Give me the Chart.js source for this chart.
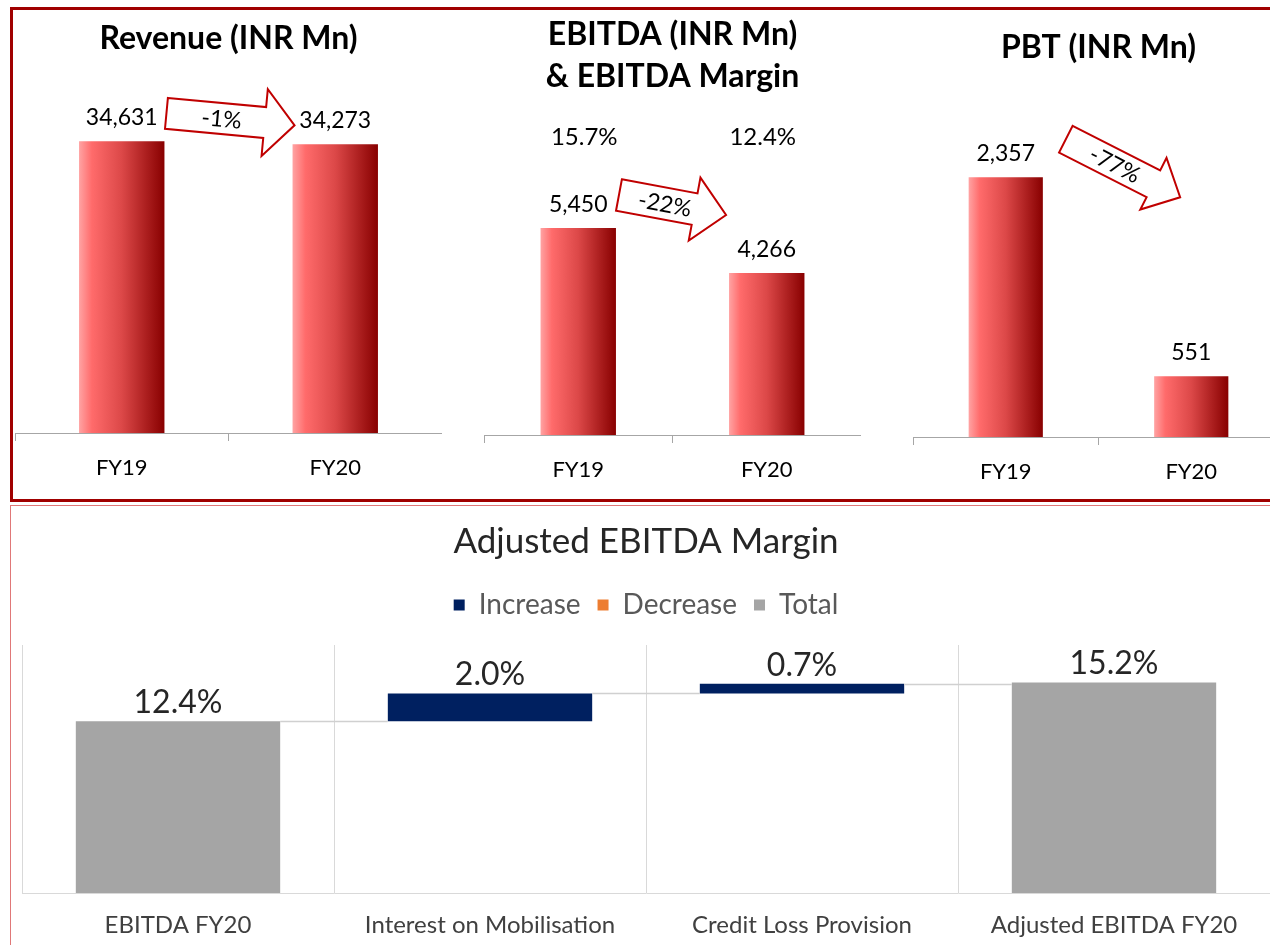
<!DOCTYPE html>
<html>
<head>
<meta charset="utf-8">
<script src="https://cdn.jsdelivr.net/npm/chart.js@4.4.1/dist/chart.umd.min.js"></script>
<style>
body { margin: 0; width: 1270px; height: 945px; overflow: hidden; background: #fff; }
.panel { position: absolute; box-sizing: border-box; }
#topPanel { left: 10px; top: 7px; width: 1290px; height: 495px; border: 3px solid #a00000; }
#bottomPanel { left: 10px; top: 505px; width: 1290px; height: 460px; border: 1px solid #e07878; }
canvas { position: absolute; }
</style>
</head>
<body>
<div class="panel" id="topPanel"></div>
<div class="panel" id="bottomPanel"></div>
<canvas id="rev" width="428" height="490" style="left:14px;top:10px"></canvas>
<canvas id="ebitda" width="378" height="490" style="left:483px;top:10px"></canvas>
<canvas id="pbt" width="372" height="490" style="left:912px;top:10px"></canvas>
<canvas id="bridge" width="1256" height="452" style="left:20px;top:508px"></canvas>
<script>
// valeurs
const years = ['FY19', 'FY20'];
const revenue = [34631, 34273];
const ebitda = [5450, 4266];
const ebitdaMargin = [15.7, 12.4];
const pbt = [2357, 551];
const changes = ['-1%', '-22%', '-77%'];

const bridgeLabels = ['EBITDA FY20', 'Interest on Mobilisation', 'Credit Loss Provision', 'Adjusted EBITDA FY20'];
const bridgeValues = [12.4, 2.0, 0.7, 15.2];
const bridgeTypes = ['total', 'increase', 'increase', 'total'];

Chart.defaults.font.family = 'Lato, sans-serif';
Chart.defaults.animation = false;

// degrade rouge horizontal sur chaque barre
function barGradient(context) {
    const chart = context.chart;
    if (!chart.chartArea || context.dataIndex === undefined) return '#e05050';
    const sx = chart.scales.x;
    const x = sx.getPixelForValue(context.dataIndex);
    const half = sx.width / chart.data.labels.length * 0.4 / 2;
    const g = chart.ctx.createLinearGradient(x - half, 0, x + half, 0);
    g.addColorStop(0, '#ffa3a3');
    g.addColorStop(0.15, '#ff6b6b');
    g.addColorStop(0.5, '#dc4848');
    g.addColorStop(1, '#880000');
    return g;
}

const valueLabels = {
    id: 'valueLabels',
    afterDatasetsDraw(chart) {
        const c = chart.ctx;
        const meta = chart.getDatasetMeta(0);
        c.save();
        c.font = '23px Lato';
        c.fillStyle = '#000';
        c.textAlign = 'center';
        c.textBaseline = 'alphabetic';
        meta.data.forEach((bar, i) => {
            c.fillText(chart.data.datasets[0].data[i].toLocaleString('en-US'), bar.x, bar.y - 16);
        });
        c.restore();
    }
};

// fleche de variation entre les deux barres
const changeArrow = {
    id: 'changeArrow',
    afterDatasetsDraw(chart, args, o) {
        if (!o || !o.text) return;
        const meta = chart.getDatasetMeta(0);
        const b0 = meta.data[0], b1 = meta.data[1];
        const x1 = b0.x + b0.width / 2 + o.from[0], y1 = b0.y + o.from[1];
        const x2 = b1.x - b1.width / 2 + o.to[0], y2 = b1.y + o.to[1];
        const len = Math.hypot(x2 - x1, y2 - y1);
        const ang = Math.atan2(y2 - y1, x2 - x1);
        const s = o.shaft / 2, H = o.head / 2, h = o.headLen;
        const c = chart.ctx;
        c.save();
        c.translate(x1, y1);
        c.rotate(ang);
        c.beginPath();
        c.moveTo(0, -s);
        c.lineTo(len - h, -s);
        c.lineTo(len - h, -H);
        c.lineTo(len, 0);
        c.lineTo(len - h, H);
        c.lineTo(len - h, s);
        c.lineTo(0, s);
        c.closePath();
        c.fillStyle = '#fff';
        c.fill();
        c.strokeStyle = '#c00000';
        c.lineWidth = 2;
        c.stroke();
        c.font = '23px Lato';
        c.fillStyle = '#000';
        c.textAlign = 'center';
        c.textBaseline = 'middle';
        c.fillText(o.text, len * 0.43, 1);
        c.restore();
    }
};

const marginLabels = {
    id: 'marginLabels',
    afterDatasetsDraw(chart, args, o) {
        if (!o || !o.values) return;
        const meta = chart.getDatasetMeta(0);
        const c = chart.ctx;
        c.save();
        c.font = '24px Lato';
        c.fillStyle = '#000';
        c.textAlign = 'center';
        c.textBaseline = 'middle';
        meta.data.forEach((bar, i) => {
            c.fillText(o.values[i].toFixed(1) + '%', bar.x + (i === 0 ? 6 : -4), chart.chartArea.top + 32);
        });
        c.restore();
    }
};

function topChart(id, title, values, yMax, titlePad, bottomPad, arrow, margins) {
    return new Chart(document.getElementById(id), {
        type: 'bar',
        data: {
            labels: years,
            datasets: [{
                data: values,
                backgroundColor: barGradient,
                borderWidth: 0,
                barPercentage: 0.4,
                categoryPercentage: 1
            }]
        },
        options: {
            responsive: false,
            layout: { padding: { left: 1, right: 0, top: 0, bottom: bottomPad } },
            scales: {
                x: {
                    grid: { drawOnChartArea: false, drawTicks: true, tickLength: 8, color: '#a6a6a6' },
                    border: { color: '#a6a6a6' },
                    ticks: { color: '#000', font: { size: 22 }, padding: 14 }
                },
                y: { display: false, min: 0, max: yMax }
            },
            plugins: {
                legend: { display: false },
                tooltip: { enabled: false },
                title: {
                    display: true,
                    text: title,
                    color: '#000',
                    font: { size: 32, weight: 'bold', lineHeight: Array.isArray(title) ? 1.3125 : 1.2 },
                    padding: titlePad
                },
                changeArrow: arrow,
                marginLabels: margins
            }
        },
        plugins: [valueLabels, changeArrow, marginLabels]
    });
}

topChart('rev', 'Revenue (INR Mn)', revenue, 44360, { top: 9, bottom: 2 }, 4.6,
    { text: changes[0], from: [2, -28], to: [2, -19], shaft: 31, head: 67, headLen: 30 }, {});
topChart('ebitda', ['EBITDA (INR Mn)', '& EBITDA Margin'], ebitda, 8690, { top: 4, bottom: 7 }, 2.6,
    { text: changes[1], from: [3, -33], to: [-3, -58], shaft: 32, head: 64, headLen: 32 }, { values: ebitdaMargin });
topChart('pbt', 'PBT (INR Mn)', pbt, 3327, { top: 18, bottom: 4 }, 0.6,
    { text: changes[2], from: [23, -38], to: [26, -179], shaft: 30, head: 58, headLen: 30 }, {});

// pont de marge : barres flottantes
const incData = [], decData = [], totData = [], tops = [];
let running = 0;
bridgeValues.forEach((v, i) => {
    const t = bridgeTypes[i];
    let seg;
    if (t === 'total') { seg = [0, v]; running = v; }
    else if (t === 'increase') { seg = [running, running + v]; running += v; }
    else { seg = [running - v, running]; running -= v; }
    tops.push(running);
    incData.push(t === 'increase' ? seg : null);
    decData.push(t === 'decrease' ? seg : null);
    totData.push(t === 'total' ? seg : null);
});

const bridgeExtras = {
    id: 'bridgeExtras',
    beforeInit(chart) {
        const fit = chart.legend.fit;
        chart.legend.fit = function () { fit.bind(chart.legend)(); this.height += 16; };
    },
    afterDatasetsDraw(chart) {
        const c = chart.ctx;
        const ys = chart.scales.y;
        const bars = bridgeLabels.map((l, i) => {
            for (let d = 0; d < chart.data.datasets.length; d++) {
                if (chart.data.datasets[d].data[i]) return chart.getDatasetMeta(d).data[i];
            }
        });
        c.save();
        c.strokeStyle = '#d0d0d0';
        c.lineWidth = 1.5;
        for (let i = 0; i < bars.length - 1; i++) {
            const y = Math.round(ys.getPixelForValue(tops[i])) + 0.5;
            c.beginPath();
            c.moveTo(bars[i].x + bars[i].width / 2, y);
            c.lineTo(bars[i + 1].x - bars[i + 1].width / 2, y);
            c.stroke();
        }
        c.font = '32px Lato';
        c.fillStyle = '#262626';
        c.textAlign = 'center';
        c.textBaseline = 'alphabetic';
        bars.forEach((b, i) => {
            const top = Math.min(b.y, b.base);
            c.fillText(bridgeValues[i].toFixed(1) + '%', b.x, top - 8);
        });
        c.restore();
    }
};

new Chart(document.getElementById('bridge'), {
    type: 'bar',
    data: {
        labels: bridgeLabels,
        datasets: [
            { label: 'Increase', data: incData, backgroundColor: '#002060' },
            { label: 'Decrease', data: decData, backgroundColor: '#ed7d31' },
            { label: 'Total', data: totData, backgroundColor: '#a5a5a5' }
        ].map(d => Object.assign(d, { borderWidth: 0, grouped: false, barPercentage: 0.655, categoryPercentage: 1 }))
    },
    options: {
        responsive: false,
        layout: { padding: { left: 2, right: 6, top: 0, bottom: 2.2 } },
        scales: {
            x: {
                grid: { color: '#d9d9d9', drawTicks: false },
                border: { color: '#d9d9d9' },
                ticks: { color: '#404040', font: { size: 24 }, padding: 18 }
            },
            y: { display: false, min: 0, max: 17.9 }
        },
        plugins: {
            title: {
                display: true,
                text: 'Adjusted EBITDA Margin',
                color: '#262626',
                font: { size: 35, weight: 'normal', lineHeight: 1.2 },
                padding: { top: 13, bottom: 11 }
            },
            legend: {
                labels: {
                    color: '#595959',
                    font: { size: 28 },
                    boxWidth: 11,
                    boxHeight: 11,
                    padding: 17
                }
            },
            tooltip: { enabled: false }
        }
    },
    plugins: [bridgeExtras]
});
</script>
</body>
</html>
